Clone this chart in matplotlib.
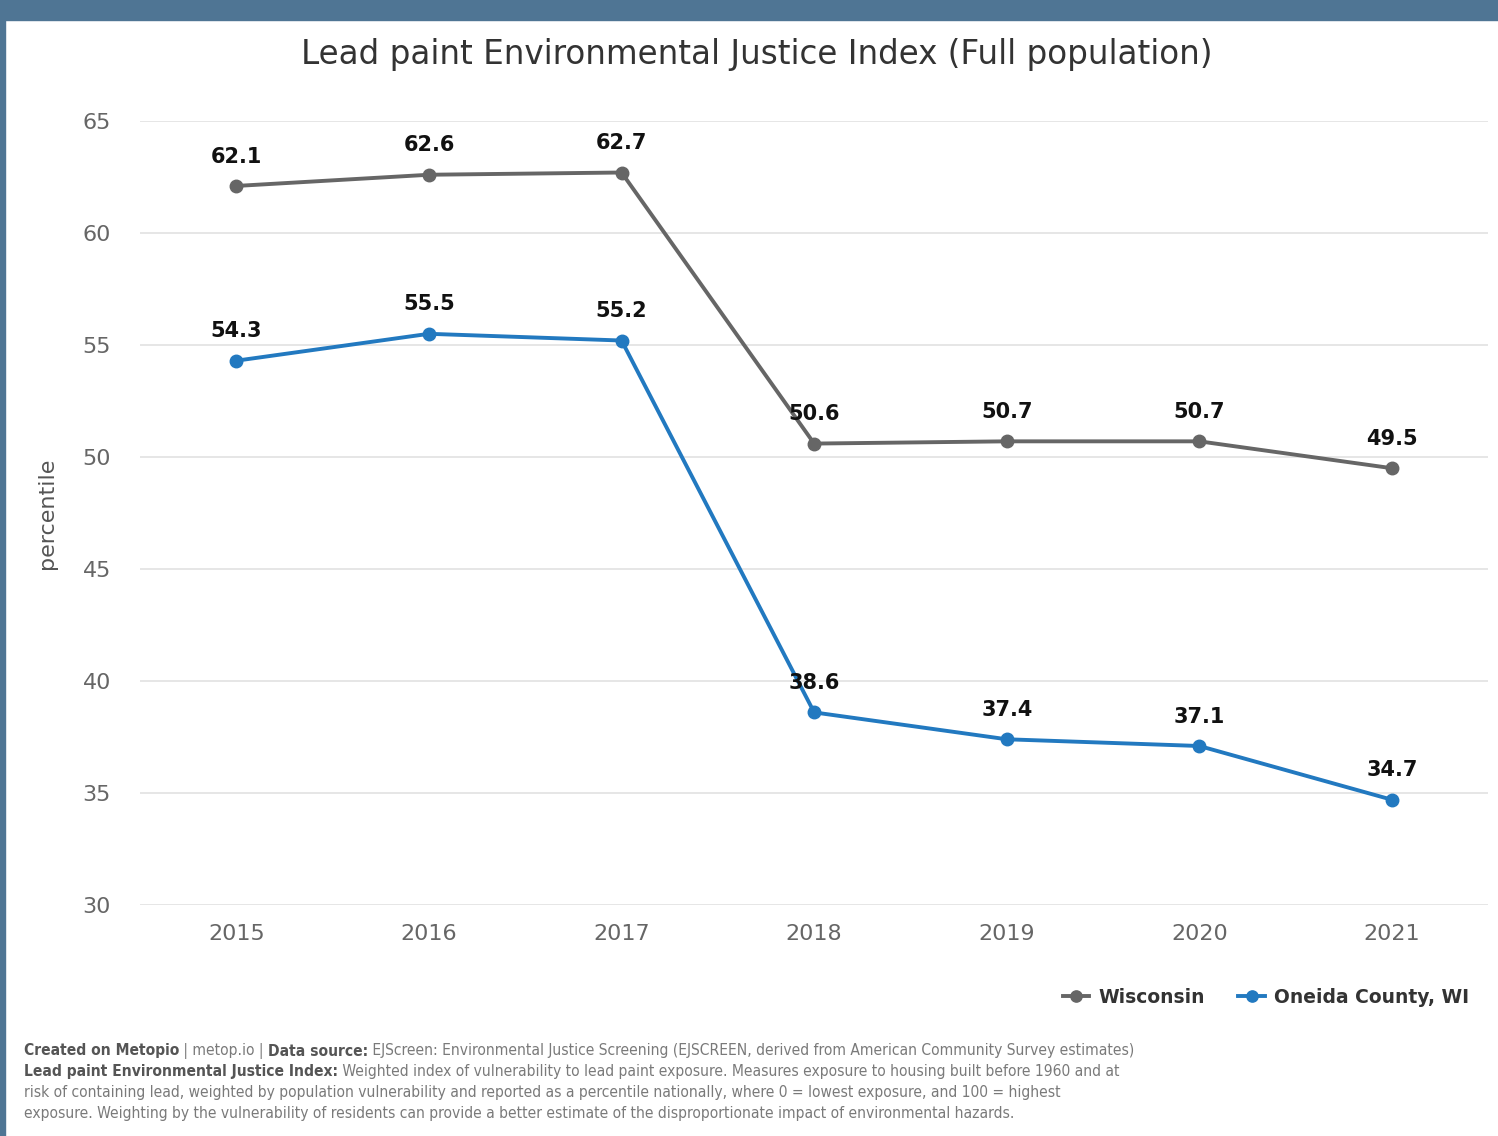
import numpy as np
import matplotlib.pyplot as plt
from matplotlib.patches import Rectangle

years = ["2015", "2016", "2017", "2018", "2019", "2020", "2021"]
wisconsin = [62.1, 62.6, 62.7, 50.6, 50.7, 50.7, 49.5]
oneida = [54.3, 55.5, 55.2, 38.6, 37.4, 37.1, 34.7]
yticks = [30, 35, 40, 45, 50, 55, 60, 65]

gray = "#666666"
blue = "#2279c0"
frame = "#4f7594"

fig = plt.figure(figsize=(14.98, 11.36), dpi=100)

# blue frame on top and left
fig.patches.append(Rectangle((0, 1 - 20 / 1136), 1, 20 / 1136, transform=fig.transFigure,
                             color=frame, zorder=0))
fig.patches.append(Rectangle((0, 0), 5 / 1498, 1, transform=fig.transFigure,
                             color=frame, zorder=0))

ax = fig.add_axes([0.0935, 0.2033, 0.900, 0.6902])
x = np.arange(len(years))

ax.plot(x, wisconsin, color=gray, lw=2.8, marker="o", ms=9, label="Wisconsin", zorder=3)
ax.plot(x, oneida, color=blue, lw=2.8, marker="o", ms=9, label="Oneida County, WI", zorder=3)

for series in (wisconsin, oneida):
    for xi, v in zip(x, series):
        ax.annotate(f"{v}", (xi, v), xytext=(0, 14), textcoords="offset points",
                    ha="center", va="bottom", fontsize=15, fontweight="bold", color="#111111")

ax.set_xlim(-0.5, len(years) - 0.5)
ax.set_ylim(30, 65)
ax.set_xticks(x)
ax.set_xticklabels(years)
ax.set_yticks(yticks)
ax.grid(axis="y", color="#e2e2e2", lw=1.2)
ax.set_axisbelow(True)
for s in ax.spines.values():
    s.set_visible(False)
ax.tick_params(length=0, labelsize=16, colors="#666666")
ax.tick_params(axis="x", pad=14)
ax.tick_params(axis="y", pad=21)
ax.set_ylabel("percentile", fontsize=16, color="#555555", labelpad=18)

fig.text(0.505, 0.9516, "Lead paint Environmental Justice Index (Full population)",
         ha="center", va="center", fontsize=23.5, color="#333333")

leg = fig.legend(loc="center right", bbox_to_anchor=(0.992, 0.122), ncol=2, frameon=False,
                 prop={"size": 13.5, "weight": "bold"}, handlelength=1.4, columnspacing=1.8,
                 handletextpad=0.5, markerscale=0.9)
for t in leg.get_texts():
    t.set_color("#333333")

# footer with bold pieces
foot = [
    [("Created on Metopio", True), (" | metop.io | ", False), ("Data source:", True),
     (" EJScreen: Environmental Justice Screening (EJSCREEN, derived from American Community Survey estimates)", False)],
    [("Lead paint Environmental Justice Index:", True),
     (" Weighted index of vulnerability to lead paint exposure. Measures exposure to housing built before 1960 and at", False)],
    [("risk of containing lead, weighted by population vulnerability and reported as a percentile nationally, where 0 = lowest exposure, and 100 = highest", False)],
    [("exposure. Weighting by the vulnerability of residents can provide a better estimate of the disproportionate impact of environmental hazards.", False)],
]
renderer = fig.canvas.get_renderer()
for i, parts in enumerate(foot):
    xpos = 24 / 1498
    ypos = 1 - (1051 + i * 20.7) / 1136
    for txt, bold in parts:
        t = fig.text(xpos, ypos, txt, ha="left", va="center", fontsize=11.2,
                     fontstretch="condensed",
                     fontweight="bold" if bold else "normal",
                     color="#555555" if bold else "#7a7a7a")
        w = t.get_window_extent(renderer).width
        xpos += w / fig.bbox.width

fig.savefig("out.png", dpi=100)
